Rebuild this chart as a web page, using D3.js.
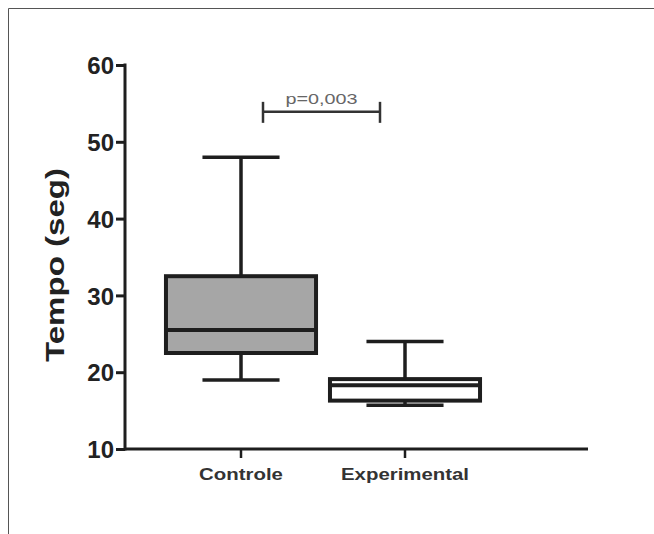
<!DOCTYPE html>
<html>
<head>
<meta charset="utf-8">
<script src="https://d3js.org/d3.v7.min.js"></script>
<style>
  body { margin: 0; background: #fff; }
  svg { display: block; font-family: "Liberation Sans", Arial, sans-serif; }
</style>
</head>
<body>
<div id="chart"></div>
<script>
// data
var groups = ["Controle", "Experimental"];
var mins = [19, 15.7];
var q1s = [22.5, 16.3];
var medians = [25.5, 18.3];
var q3s = [32.5, 19.1];
var maxs = [48, 24];
var fills = ["#a6a6a6", "#ffffff"];
var yTicks = [10, 20, 30, 40, 50, 60];
var pLabel = "p=0,003";

var W = 654, H = 534;
var svg = d3.select("#chart").append("svg").attr("width", W).attr("height", H);

// frame of the figure
svg.append("path").attr("d", "M8.5," + H + "V8.5H" + W)
  .attr("fill", "none").attr("stroke", "#555").attr("stroke-width", 1);

var y = d3.scaleLinear().domain([10, 60]).range([449, 65]);
var x = d3.scaleBand().domain(groups).range([159, 487]);
var x0 = 125, xEnd = 588;

var boxes = groups.map(function (g, i) {
  return { g: g, min: mins[i], q1: q1s[i], med: medians[i], q3: q3s[i], max: maxs[i], fill: fills[i] };
});

var col = "#1e1e1e";
var bw = x.bandwidth() * 0.915, cw = x.bandwidth() * 0.47;

var gb = svg.selectAll("g.box").data(boxes).enter().append("g")
  .attr("transform", function (d) { return "translate(" + (x(d.g) + x.bandwidth() / 2) + ",0)"; });

// whiskers
gb.append("line").attr("x1", 0).attr("x2", 0)
  .attr("y1", function (d) { return y(d.max); }).attr("y2", function (d) { return y(d.q3); })
  .attr("stroke", col).attr("stroke-width", 3.5);
gb.append("line").attr("x1", 0).attr("x2", 0)
  .attr("y1", function (d) { return y(d.q1); }).attr("y2", function (d) { return y(d.min); })
  .attr("stroke", col).attr("stroke-width", 3.5);
gb.append("line").attr("x1", -cw / 2).attr("x2", cw / 2)
  .attr("y1", function (d) { return y(d.max); }).attr("y2", function (d) { return y(d.max); })
  .attr("stroke", col).attr("stroke-width", 3.5);
gb.append("line").attr("x1", -cw / 2).attr("x2", cw / 2)
  .attr("y1", function (d) { return y(d.min); }).attr("y2", function (d) { return y(d.min); })
  .attr("stroke", col).attr("stroke-width", 3.5);

// box
gb.append("rect").attr("x", -bw / 2).attr("width", bw)
  .attr("y", function (d) { return y(d.q3); })
  .attr("height", function (d) { return y(d.q1) - y(d.q3); })
  .attr("fill", function (d) { return d.fill; })
  .attr("stroke", col).attr("stroke-width", 4);
// median
gb.append("line").attr("x1", -bw / 2).attr("x2", bw / 2)
  .attr("y1", function (d) { return y(d.med); }).attr("y2", function (d) { return y(d.med); })
  .attr("stroke", col).attr("stroke-width", 4);

// y axis
var yAxis = svg.append("g").attr("transform", "translate(" + x0 + ",0)")
  .call(d3.axisLeft(y).tickValues(yTicks).tickSize(9).tickPadding(2));
yAxis.select(".domain").remove();
yAxis.selectAll(".tick line").attr("stroke", col).attr("stroke-width", 3);
yAxis.selectAll(".tick text").attr("fill", "#222").attr("dy", "0.36em")
  .style("font-size", "24px").style("font-weight", "bold");
svg.append("line").attr("x1", x0).attr("x2", x0).attr("y1", y(60) - 1.5).attr("y2", y(10) + 1.5)
  .attr("stroke", col).attr("stroke-width", 3);

// x axis
var xAxis = svg.append("g").attr("transform", "translate(0," + y(10) + ")")
  .call(d3.axisBottom(x).tickSize(9).tickPadding(10));
xAxis.select(".domain").remove();
xAxis.selectAll(".tick line").attr("stroke", col).attr("stroke-width", 2.5);
xAxis.selectAll(".tick text").attr("fill", "#333")
  .style("font-size", "17px").style("font-weight", "bold")
  .attr("transform", "scale(1.2,1)");
svg.append("line").attr("x1", x0).attr("x2", xEnd).attr("y1", y(10)).attr("y2", y(10))
  .attr("stroke", col).attr("stroke-width", 3);

// y axis title
svg.append("text").attr("transform", "translate(64,265) rotate(-90)")
  .attr("text-anchor", "middle").attr("fill", "#222")
  .attr("textLength", 194).attr("lengthAdjust", "spacingAndGlyphs")
  .style("font-size", "26px").style("font-weight", "bold").text("Tempo (seg)");

// significance bracket
var bx1 = 263, bx2 = 380, by = y(53.9);
var br = svg.append("g").attr("stroke", "#333").attr("stroke-width", 2.5);
br.append("line").attr("x1", bx1).attr("x2", bx2).attr("y1", by).attr("y2", by);
br.append("line").attr("x1", bx1).attr("x2", bx1).attr("y1", by - 10).attr("y2", by + 11);
br.append("line").attr("x1", bx2).attr("x2", bx2).attr("y1", by - 10).attr("y2", by + 11);
svg.append("text").attr("x", (bx1 + bx2) / 2).attr("y", by - 8).attr("text-anchor", "middle")
  .attr("fill", "#666").attr("textLength", 72).attr("lengthAdjust", "spacingAndGlyphs")
  .style("font-size", "15px").text(pLabel);
</script>
</body>
</html>
